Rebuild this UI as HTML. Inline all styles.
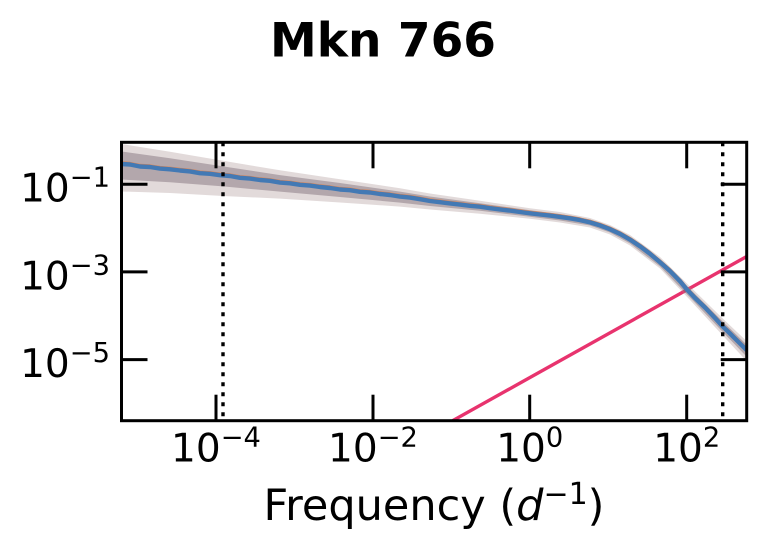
<!DOCTYPE html>
<html>
<head>
<meta charset="utf-8">
<style>
html,body{margin:0;padding:0;background:#fff;}
svg{display:block;}
text{font-family:"DejaVu Sans","Liberation Sans",sans-serif;fill:#000;}
</style>
</head>
<body>
<svg width="766" height="553" viewBox="0 0 766 553" xmlns="http://www.w3.org/2000/svg">
<defs>
<clipPath id="ax"><rect x="121.5" y="142.3" width="625.2" height="278.4"/></clipPath>
</defs>
<rect width="766" height="553" fill="#fff"/>

<!-- Title -->
<text x="383" y="56.7" text-anchor="middle" font-size="47" font-weight="bold">Mkn 766</text>

<g clip-path="url(#ax)">
  <!-- pink power law -->
  <line x1="452.6" y1="420.7" x2="746.7" y2="256.5" stroke="#e8336e" stroke-width="3.4"/>

  <!-- outer band -->
  <polygon fill="#a08585" fill-opacity="0.3" points="
  121.5,144 170,151.8 223,160.8 280,170.3 340,179.2 400,188.2 430,193.5 480,200.7 530,208.3 560,212 590,218 610,225 630,235 660,257 690,286.5 723,318.7 747,341.5
  747,361.5 723,335.7 690,300 660,268.5 630,245.5 610,234.5 590,227.5 560,222.5 530,218.8 480,213.7 430,209.5 400,206.6 340,202.5 280,198.6 223,196 170,193 121.5,191.5"/>
  <!-- inner band -->
  <polygon fill="#6e5a66" fill-opacity="0.4" points="
  121.5,151.5 170,158.3 223,166.4 280,175.1 340,183 400,191.6 430,196.5 480,203.2 530,210.3 560,214 590,219.5 610,226.5 630,237 660,259 690,289 723,321.7 747,345
  747,357 723,332.2 690,297.5 660,266.5 630,243.5 610,232.5 590,225.5 560,220.5 530,216.8 480,210.7 430,206 400,202.6 340,197 280,191.6 223,186.4 170,182.3 121.5,179.5"/>

  <!-- orange line (slightly offset) -->
  <polyline fill="none" stroke="#dd8452" stroke-width="3" stroke-linejoin="round" transform="translate(0,-1.2)" points="
  121.5,164 130,164.5 140,166.5 150,167 160,168.6 170,169.3 180,170.5 190,171.4 200,173.2 210,173.8 220,175.2 230,176 240,177.8 250,178.6 260,180 270,180.8 280,182.6 290,183.3 300,184.8 310,185.6 320,187 330,188 340,189.5 350,190.2 360,191.8 370,192.5 380,194 390,195 400,196.6 410,197.6 420,199.2 430,201 440,202.2 450,203.4 460,204.6 470,205.8 480,206.7 490,208.2 500,209.4 510,210.6 520,212 530,213.3 540,214.5 550,215.6 560,216.9 570,218.3 580,220.1 590,222.4 600,225.4 610,229.2 620,233.9 630,239.6 640,246.3 650,253.8 660,262.2 670,271 680,281.2 687,289.6 695,298 705,307.5 715,318 723,326.7 730,333.5 740,343.5 747,350.5"/>
  <!-- blue line -->
  <polyline fill="none" stroke="#4379b4" stroke-width="4.4" stroke-linejoin="round" points="
  121.5,164 130,164.5 140,166.5 150,167 160,168.6 170,169.3 180,170.5 190,171.4 200,173.2 210,173.8 220,175.2 230,176 240,177.8 250,178.6 260,180 270,180.8 280,182.6 290,183.3 300,184.8 310,185.6 320,187 330,188 340,189.5 350,190.2 360,191.8 370,192.5 380,194 390,195 400,196.6 410,197.6 420,199.2 430,201 440,202.2 450,203.4 460,204.6 470,205.8 480,206.7 490,208.2 500,209.4 510,210.6 520,212 530,213.3 540,214.5 550,215.6 560,216.9 570,218.3 580,220.1 590,222.4 600,225.4 610,229.2 620,233.9 630,239.6 640,246.3 650,253.8 660,262.2 670,271 680,281.2 687,289.6 695,298 705,307.5 715,318 723,326.7 730,333.5 740,343.5 747,350.5"/>

  <!-- dotted verticals -->
  <line x1="223" y1="142.3" x2="223" y2="420.7" stroke="#000" stroke-width="3.4" stroke-dasharray="4 6"/>
  <line x1="722.7" y1="142.3" x2="722.7" y2="420.7" stroke="#000" stroke-width="3.4" stroke-dasharray="4 6"/>
</g>

<!-- ticks -->
<g stroke="#000" stroke-width="3">
  <!-- bottom -->
  <line x1="216" y1="420.7" x2="216" y2="394.7"/>
  <line x1="373" y1="420.7" x2="373" y2="394.7"/>
  <line x1="529.7" y1="420.7" x2="529.7" y2="394.7"/>
  <line x1="686.7" y1="420.7" x2="686.7" y2="394.7"/>
  <!-- top -->
  <line x1="216" y1="142.3" x2="216" y2="168.3"/>
  <line x1="373" y1="142.3" x2="373" y2="168.3"/>
  <line x1="529.7" y1="142.3" x2="529.7" y2="168.3"/>
  <line x1="686.7" y1="142.3" x2="686.7" y2="168.3"/>
  <!-- left -->
  <line x1="121.5" y1="184.2" x2="147.5" y2="184.2"/>
  <line x1="121.5" y1="271.9" x2="147.5" y2="271.9"/>
  <line x1="121.5" y1="359.6" x2="147.5" y2="359.6"/>
  <!-- right -->
  <line x1="746.7" y1="184.2" x2="720.7" y2="184.2"/>
  <line x1="746.7" y1="271.9" x2="720.7" y2="271.9"/>
  <line x1="746.7" y1="359.6" x2="720.7" y2="359.6"/>
</g>

<!-- spines -->
<rect x="121.5" y="142.3" width="625.2" height="278.4" fill="none" stroke="#000" stroke-width="3"/>

<!-- y tick labels -->
<g font-size="39">
  <text x="110" y="201.7" text-anchor="end">10<tspan font-size="27.3" dy="-15">−1</tspan></text>
  <text x="110" y="289.4" text-anchor="end">10<tspan font-size="27.3" dy="-15">−3</tspan></text>
  <text x="110" y="377.1" text-anchor="end">10<tspan font-size="27.3" dy="-15">−5</tspan></text>
</g>

<!-- x tick labels -->
<g font-size="39">
  <text x="216" y="461.7" text-anchor="middle">10<tspan font-size="27.3" dy="-15">−4</tspan></text>
  <text x="373" y="461.7" text-anchor="middle">10<tspan font-size="27.3" dy="-15">−2</tspan></text>
  <text x="529.7" y="461.7" text-anchor="middle">10<tspan font-size="27.3" dy="-15">0</tspan></text>
  <text x="686.7" y="461.7" text-anchor="middle">10<tspan font-size="27.3" dy="-15">2</tspan></text>
</g>

<!-- x label -->
<text x="434" y="520" text-anchor="middle" font-size="43">Frequency (<tspan font-style="italic">d</tspan><tspan font-size="30" dy="-16">−1</tspan><tspan dy="16">)</tspan></text>
</svg>
</body>
</html>
